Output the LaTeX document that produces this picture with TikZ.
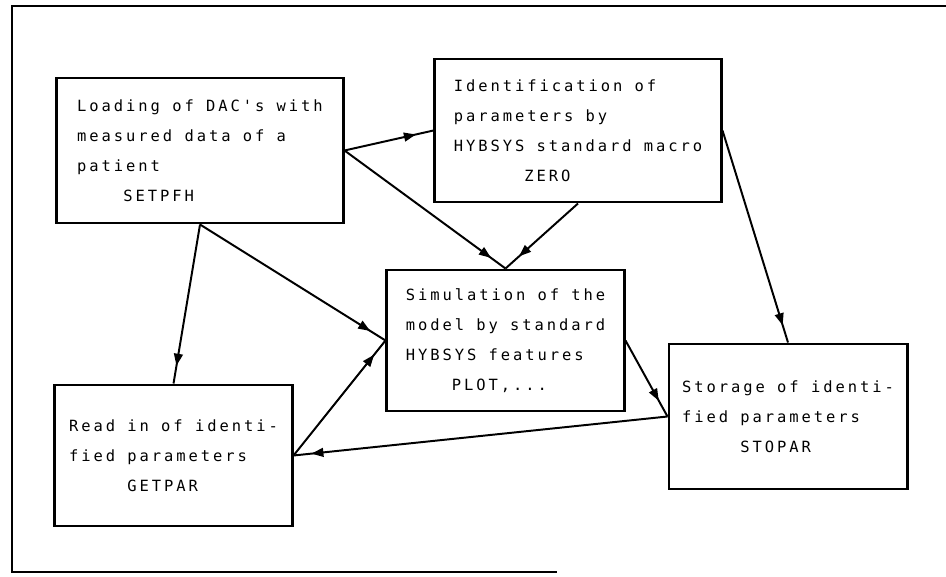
\documentclass[tikz,border=0pt]{standalone}
\usepackage{fontspec}
\usepackage{tikz}
\usetikzlibrary{
    arrows.meta,
    decorations.markings,
    positioning
}
\newfontfamily\plotterfont[LetterSpace=19]{DejaVu Sans Mono}
\tikzset{prbox/.style={draw=black, line width=2.1pt, rectangle, align=left, inner sep=0pt,
    font=\plotterfont\fontsize{11}{21.3}\selectfont}}
\tikzset{flow/.style={line width=1.4pt, postaction={decorate}, decoration={markings,
    mark=at position -0.45cm with {\arrow{Triangle[length=0.3cm, width=0.22cm]}}}}}

\begin{document}
\begin{tikzpicture}[x=0.025cm, y=-0.025cm]
                    \useasboundingbox (0, 0) rectangle (946, 577);

                    \draw[line width=1.8pt] (946, 6) -- (12, 6) -- (12, 572) -- (557, 572);

                    \node[prbox, minimum width=7.15cm, minimum height=3.625cm] (load) at (200, 150.5)
                        {Loading of DAC's with\\measured data of a\\patient\\\phantom{0000}SETPFH};
                    \node[prbox, minimum width=7.15cm, minimum height=3.575cm] (ident) at (578, 130.5)
                        {Identification of\\parameters by\\HYBSYS standard macro\\\phantom{000000}ZERO};
                    \node[prbox, minimum width=5.925cm, minimum height=3.525cm] (simu) at (505.5, 340.5)
                        {Simulation of the\\model by standard\\HYBSYS features\\\phantom{0000}PLOT,...};
                    \node[prbox, minimum width=5.925cm, minimum height=3.525cm] (getp) at (173.5, 455.5)
                        {Read in of identi-\\fied parameters\\\phantom{00000}GETPAR};
                    \node[prbox, minimum width=5.95cm, minimum height=3.625cm] (stop) at (788, 416.5)
                        {Storage of identi-\\fied parameters\\\phantom{00000}STOPAR};

                    \draw
                    (load.east) edge[flow] (ident.west)
                    (load.east) edge[flow] (simu.north)
                    (ident.south) edge[flow] (simu.north)
                    (load.south) edge[flow] (getp.north)
                    (load.south) edge[flow] (simu.west)
                    (getp.east) edge[flow] (simu.west)
                    (simu.east) edge[flow] (stop.west)
                    (stop.west) edge[flow] (getp.east)
                    (ident.east) edge[flow] (stop.north);
                \end{tikzpicture}
\end{document}
